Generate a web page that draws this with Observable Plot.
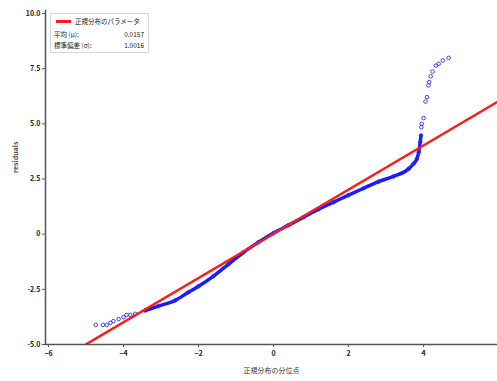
<!DOCTYPE html>
<html>
<head>
<meta charset="utf-8">
<script src="https://cdn.jsdelivr.net/npm/d3@7"></script>
<script src="https://cdn.jsdelivr.net/npm/@observablehq/plot@0.6"></script>
<style>
  html, body { margin: 0; padding: 0; background: #fff; }
  #wrap { position: relative; width: 497px; height: 381px; font-family: "Noto Sans CJK JP", "Noto Sans", sans-serif; }
  #legend {
    position: absolute; left: 50px; top: 13px; width: 99px; height: 40px;
    background: #fff; border: 1px solid #d8d8d8; box-sizing: border-box;
    font-size: 6.5px; color: #222; line-height: 1;
  }
  #legend .row { position: absolute; left: 3px; right: 4px; display: flex; justify-content: space-between; }
  #legend .swatch { position: absolute; left: 5px; top: 6px; width: 15px; height: 2.5px; background: #ff1a1a; }
</style>
</head>
<body>
<div id="wrap"></div>
<script>
// Theoretical normal quantiles and the ordered residuals plotted against them
const quantiles = [
  -4.74, -4.55, -4.45, -4.35, -4.27, -4.13, -4.00, -3.92, -3.82, -3.69,
  -3.42, -3.07, -2.62, -2.27, -2.00, -1.60, -1.20, -0.80, -0.40, 0.00,
  0.40, 0.80, 1.20, 1.60, 2.00, 2.40, 2.80, 3.20, 3.60, 3.73,
  3.82, 3.87, 3.91, 3.93, 3.94, 3.95, 4.00, 4.05, 4.09, 4.13,
  4.15, 4.19, 4.24, 4.33, 4.40, 4.51, 4.67
];
const residuals = [
  -4.11, -4.11, -4.11, -4.02, -3.94, -3.85, -3.76, -3.66, -3.66, -3.61,
  -3.46, -3.26, -3.00, -2.63, -2.36, -1.90, -1.36, -0.82, -0.36, 0.05,
  0.41, 0.77, 1.13, 1.45, 1.77, 2.08, 2.38, 2.62, 2.96, 3.19,
  3.41, 3.72, 4.17, 4.47, 4.85, 5.00, 5.26, 6.01, 6.21, 6.74,
  6.89, 7.15, 7.37, 7.64, 7.72, 7.87, 7.99
];

// Fitted normal parameters (reference line y = mu + sigma * x)
const mu = 0.0157;
const sigma = 1.0016;
const refLineX = [-5, 6.5];

const xTicks = [-6, -4, -2, 0, 2, 4];
const yTicks = [-5, -2.5, 0, 2.5, 5, 7.5, 10];
const yTickLabels = ["-5.0", "-2.5", "0", "2.5", "5.0", "7.5", "10.0"];

const legendTitle = "正規分布のパラメータ";
const legendRows = [["平均 (μ):", mu.toFixed(4)], ["標準偏差 (σ):", sigma.toFixed(4)]];
const xLabel = "正規分布の分位点";
const yLabel = "residuals";

const points = quantiles.map((q, i) => ({q, r: residuals[i]}));
const densePart = points.filter(d => d.q > -3.5 && d.q < 3.94);
const refLine = refLineX.map(x => ({x, y: mu + sigma * x}));

const axisColor = "#555";

const chart = Plot.plot({
  width: 497,
  height: 381,
  marginLeft: 45,
  marginRight: 0,
  marginTop: 13,
  marginBottom: 37,
  style: {fontFamily: "'Noto Sans CJK JP', 'Noto Sans', sans-serif", fontSize: "7px", color: "#222", background: "#fff"},
  x: {domain: [-6.08, 5.97], ticks: xTicks, tickFormat: d => String(d), label: null},
  y: {domain: [-5, 10], ticks: yTicks, tickFormat: d => yTickLabels[yTicks.indexOf(d)], label: null},
  marks: [
    Plot.line(densePart, {x: "q", y: "r", stroke: "#1a1aff", strokeWidth: 3.5, curve: "monotone-x"}),
    Plot.dot(points, {x: "q", y: "r", r: 1.8, stroke: "#2a2aff", strokeWidth: 0.9, fill: "none"}),
    Plot.line(refLine, {x: "x", y: "y", stroke: "#ff1a1a", strokeWidth: 2.5, clip: true}),
    Plot.axisX({ticks: xTicks, tickSize: 3, tickPadding: 4, stroke: axisColor, fontSize: 7, fontWeight: "bold", label: null}),
    Plot.axisY({ticks: yTicks, tickSize: 3, tickPadding: 2, stroke: axisColor, fontSize: 7, fontWeight: "bold", label: null, tickFormat: d => yTickLabels[yTicks.indexOf(d)]}),
    Plot.ruleX([-6.08], {stroke: axisColor, strokeWidth: 1.5, y1: -5, y2: 10.15}),
    Plot.ruleY([-5], {stroke: axisColor, strokeWidth: 1.5}),
    Plot.text([xLabel], {frameAnchor: "bottom", dy: 28, fontSize: 7, fill: "#333"}),
    Plot.text([yLabel], {frameAnchor: "left", dx: -30, dy: -6, rotate: -90, fontSize: 7, fill: "#555", fontWeight: "bold", style: "letter-spacing:2.5px"})
  ]
});

const wrap = document.getElementById("wrap");
wrap.appendChild(chart);

// Legend box drawn over the upper-left corner of the plot
const legend = document.createElement("div");
legend.id = "legend";
const sw = document.createElement("div");
sw.className = "swatch";
legend.appendChild(sw);
const title = document.createElement("div");
title.className = "row";
title.style.left = "24px";
title.style.top = "3.5px";
title.textContent = legendTitle;
legend.appendChild(title);
legendRows.forEach((r, i) => {
  const row = document.createElement("div");
  row.className = "row";
  row.style.top = (17 + i * 11) + "px";
  const a = document.createElement("span"); a.textContent = r[0];
  const b = document.createElement("span"); b.textContent = r[1];
  row.appendChild(a); row.appendChild(b);
  legend.appendChild(row);
});
wrap.appendChild(legend);
</script>
</body>
</html>
